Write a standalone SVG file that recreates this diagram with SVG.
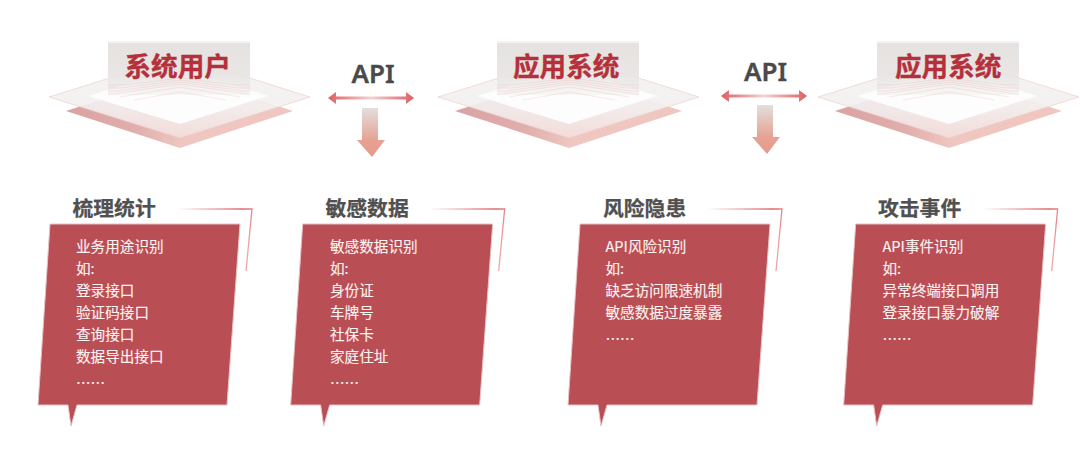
<svg xmlns="http://www.w3.org/2000/svg" width="1080" height="468" viewBox="0 0 1080 468">
<style>
text{font-family:"Noto Sans CJK SC","Noto Sans",sans-serif}
.plat{font-size:26.6px;font-weight:700;fill:#b5303a;stroke:#b5303a;stroke-width:.35}
.api{font-family:"Noto Sans","Liberation Sans",sans-serif;font-size:26px;font-weight:600;fill:#4a4a4a;stroke:#4a4a4a;stroke-width:.35;text-anchor:middle}
.ttl{font-size:20.8px;font-weight:700;fill:#505050;stroke:#505050;stroke-width:.25}
.body{font-size:14.6px;fill:#fdf2f2;stroke:#fdf2f2;stroke-width:.12}
.card{fill:#b94f55;stroke:#e6c3c5;stroke-width:1}
.corner{fill:none;stroke:url(#cornerG);stroke-width:1.3}
.hatch{fill:none;stroke:#e58f8f;stroke-width:.5;opacity:.4}
</style>
<defs>
<linearGradient id="panelG" x1="0" y1="0" x2="0" y2="1"><stop offset="0" stop-color="#e2dfdd"/><stop offset=".6" stop-color="#e6e3e1"/><stop offset="1" stop-color="#efeeed" stop-opacity=".5"/></linearGradient>
<linearGradient id="lowG" gradientUnits="userSpaceOnUse" x1="66" y1="111" x2="180" y2="148"><stop offset="0" stop-color="#d9a3a3"/><stop offset=".6" stop-color="#e0aeac"/><stop offset="1" stop-color="#efc6c0"/></linearGradient>
<linearGradient id="midG" gradientUnits="userSpaceOnUse" x1="180" y1="85" x2="180" y2="138"><stop offset="0" stop-color="#f2f1f0"/><stop offset=".45" stop-color="#f3f0ef"/><stop offset="1" stop-color="#f3dedb"/></linearGradient>
<linearGradient id="cornerG" gradientUnits="userSpaceOnUse" x1="177" y1="209" x2="252" y2="240"><stop offset="0" stop-color="#fff"/><stop offset=".75" stop-color="#e0686c"/><stop offset="1" stop-color="#eda5a5"/></linearGradient>
<linearGradient id="hG" x1="0" y1="0" x2="1" y2="0"><stop offset="0" stop-color="#dc5f64"/><stop offset=".5" stop-color="#f2d3d2"/><stop offset="1" stop-color="#dc5f64"/></linearGradient>
<linearGradient id="dG" x1="0" y1="0" x2="0" y2="1"><stop offset="0" stop-color="#e3dfdd"/><stop offset=".65" stop-color="#e6a294"/><stop offset="1" stop-color="#e7998a"/></linearGradient>
<g id="stack">
<path d="M66 111 180 74 293 111 180 148Z" fill="url(#lowG)"/>
<path d="M49 97 180 56 310 97 180 138Z" fill="url(#midG)" fill-opacity=".9" stroke="#eccfcb" stroke-width=".7"/>
<path d="M88 96 180 68 268 96 180 124Z" fill="#fefdfd"/>
<rect x="108" y="41" width="142" height="54" fill="url(#panelG)" fill-opacity=".9"/>
<rect x="108" y="41" width="142" height="2" fill="#f5f3f2"/>
<path class="hatch" d="M108 85H125L180 78 235 85H250M108 88H122L180 80 238 88H250M108 91H118L180 82 242 91H250M108 94H113L180 84 247 94H250M120 97 180 87 240 97M134 100 180 92 226 100"/>
</g>
<path id="cardShape" d="M50 224H240L227 405H77L71 426 68 405H38Z"/>
<path id="corner" d="M177 209H252L246 271"/>
<path id="hArrow" d="M328 98 336 92V96.600H406V92L414 98 406 104V99.400H336V104Z"/>
<path id="dArrow" d="M362 108H378V140H385L372 157 357 140H362Z"/>
</defs>
<rect width="1080" height="468" fill="#fff"/>

<g id="node-system-user"><use href="#stack"/><text class="plat" x="124.500" y="76">系统用户</text></g>
<g id="node-app-1"><use href="#stack" transform="translate(389 0)"/><text class="plat" x="513" y="76">应用系统</text></g>
<g id="node-app-2"><use href="#stack" transform="translate(769 0)"/><text class="plat" x="895" y="76">应用系统</text></g>

<g id="connectors">
<text class="api" x="373" y="83">API</text>
<use href="#hArrow" fill="url(#hG)"/>
<use href="#dArrow" fill="url(#dG)"/>
<text class="api" x="765.500" y="81">API</text>
<use href="#hArrow" fill="url(#hG)" transform="translate(393 -2)"/>
<use href="#dArrow" fill="url(#dG)" transform="translate(395 -3)"/>
</g>

<g id="node-card-1">
<use href="#corner" class="corner"/><use href="#cardShape" class="card"/>
<text class="ttl" x="72.500" y="216">梳理统计</text>
<text class="body"><tspan x="76" y="252">业务用途识别</tspan><tspan x="76" y="274">如:</tspan><tspan x="76" y="296">登录接口</tspan><tspan x="76" y="318">验证码接口</tspan><tspan x="76" y="340">查询接口</tspan><tspan x="76" y="362">数据导出接口</tspan><tspan x="76" y="389">……</tspan></text>
</g>
<g id="node-card-2">
<use href="#corner" class="corner" transform="translate(252.670 0)"/><use href="#cardShape" class="card" transform="translate(252.670 0)"/>
<text class="ttl" x="325.500" y="216">敏感数据</text>
<text class="body"><tspan x="330" y="252">敏感数据识别</tspan><tspan x="330" y="274">如:</tspan><tspan x="330" y="296">身份证</tspan><tspan x="330" y="318">车牌号</tspan><tspan x="330" y="340">社保卡</tspan><tspan x="330" y="362">家庭住址</tspan><tspan x="330" y="389">……</tspan></text>
</g>
<g id="node-card-3">
<use href="#corner" class="corner" transform="translate(530 0)"/><use href="#cardShape" class="card" transform="translate(530 0)"/>
<text class="ttl" x="603" y="216">风险隐患</text>
<text class="body"><tspan x="605.500" y="252">API风险识别</tspan><tspan x="605.500" y="274">如:</tspan><tspan x="605.500" y="296">缺乏访问限速机制</tspan><tspan x="605.500" y="318">敏感数据过度暴露</tspan><tspan x="605.500" y="345">……</tspan></text>
</g>
<g id="node-card-4">
<use href="#corner" class="corner" transform="translate(805.670 0)"/><use href="#cardShape" class="card" transform="translate(805.670 0)"/>
<text class="ttl" x="878" y="216">攻击事件</text>
<text class="body"><tspan x="882.500" y="252">API事件识别</tspan><tspan x="882.500" y="274">如:</tspan><tspan x="882.500" y="296">异常终端接口调用</tspan><tspan x="882.500" y="318">登录接口暴力破解</tspan><tspan x="882.500" y="345">……</tspan></text>
</g>
</svg>
